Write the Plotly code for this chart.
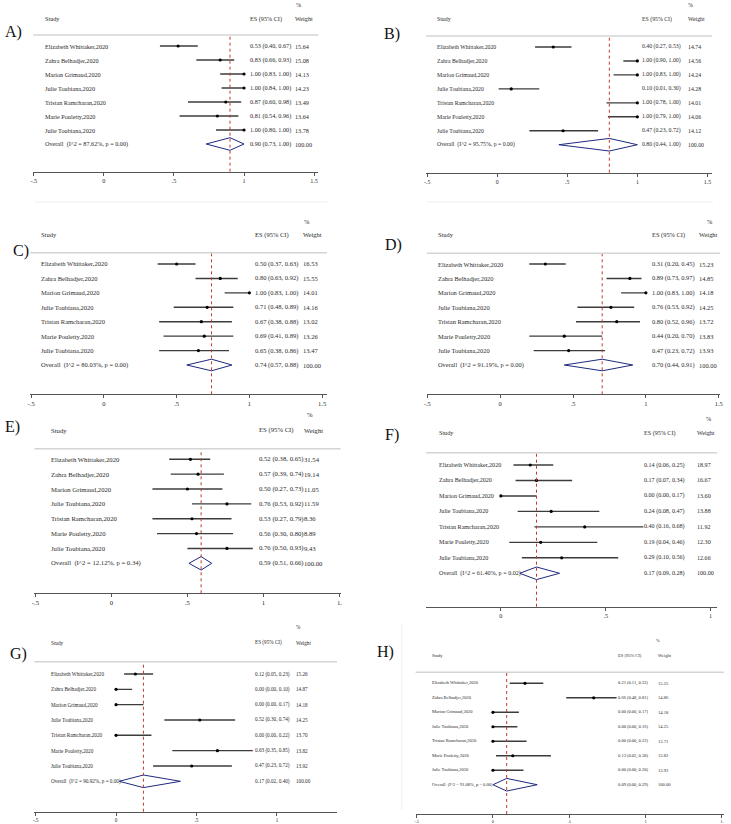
import plotly.graph_objects as go

W, H = 731, 824

# ---------------- data ----------------
studies = ["Elizabeth Whittaker,2020", "Zahra Belhadjer,2020", "Marion Grimaud,2020",
           "Julie Toubiana,2020", "Tristan Ramcharan,2020", "Marie Pouletty,2020",
           "Julie Toubiana,2020"]
panel_labels = ["A)", "B)", "C)", "D)", "E)", "F)", "G)", "H)"]

es_A = [0.53, 0.83, 1.00, 1.00, 0.87, 0.81, 1.00]
lo_A = [0.40, 0.66, 0.83, 0.84, 0.60, 0.54, 0.80]
hi_A = [0.67, 0.93, 1.00, 1.00, 0.98, 0.96, 1.00]
wt_A = [15.64, 15.08, 14.13, 14.23, 13.49, 13.64, 13.78]
overall_A = [0.90, 0.73, 1.00]
het_A = [87.62, 0.00]

es_B = [0.40, 1.00, 1.00, 0.10, 1.00, 1.00, 0.47]
lo_B = [0.27, 0.90, 0.83, 0.01, 0.78, 0.79, 0.23]
hi_B = [0.53, 1.00, 1.00, 0.30, 1.00, 1.00, 0.72]
wt_B = [14.74, 14.56, 14.24, 14.28, 14.01, 14.06, 14.12]
overall_B = [0.80, 0.44, 1.00]
het_B = [95.75, 0.00]

es_C = [0.50, 0.80, 1.00, 0.71, 0.67, 0.69, 0.65]
lo_C = [0.37, 0.63, 0.83, 0.48, 0.38, 0.41, 0.38]
hi_C = [0.63, 0.92, 1.00, 0.89, 0.88, 0.89, 0.86]
wt_C = [16.53, 15.55, 14.01, 14.16, 13.02, 13.26, 13.47]
overall_C = [0.74, 0.57, 0.88]
het_C = [80.03, 0.00]

es_D = [0.31, 0.89, 1.00, 0.76, 0.80, 0.44, 0.47]
lo_D = [0.20, 0.73, 0.83, 0.53, 0.52, 0.20, 0.23]
hi_D = [0.45, 0.97, 1.00, 0.92, 0.96, 0.70, 0.72]
wt_D = [15.23, 14.85, 14.18, 14.25, 13.72, 13.83, 13.93]
overall_D = [0.70, 0.44, 0.91]
het_D = [91.19, 0.00]

es_E = [0.52, 0.57, 0.50, 0.76, 0.53, 0.56, 0.76]
lo_E = [0.38, 0.39, 0.27, 0.53, 0.27, 0.30, 0.50]
hi_E = [0.65, 0.74, 0.73, 0.92, 0.79, 0.80, 0.93]
wt_E = [31.54, 19.14, 11.05, 11.59, 8.36, 8.89, 9.43]
overall_E = [0.59, 0.51, 0.66]
het_E = [12.12, 0.34]

es_F = [0.14, 0.17, 0.00, 0.24, 0.40, 0.19, 0.29]
lo_F = [0.06, 0.07, 0.00, 0.08, 0.16, 0.04, 0.10]
hi_F = [0.25, 0.34, 0.17, 0.47, 0.68, 0.46, 0.56]
wt_F = [18.97, 16.67, 13.60, 13.88, 11.92, 12.30, 12.66]
overall_F = [0.17, 0.09, 0.28]
het_F = [61.40, 0.02]

es_G = [0.12, 0.00, 0.00, 0.52, 0.00, 0.63, 0.47]
lo_G = [0.05, 0.00, 0.00, 0.30, 0.00, 0.35, 0.23]
hi_G = [0.23, 0.10, 0.17, 0.74, 0.22, 0.85, 0.72]
wt_G = [15.26, 14.87, 14.18, 14.25, 13.70, 13.82, 13.92]
overall_G = [0.17, 0.02, 0.40]
het_G = [90.92, 0.00]

es_H = [0.21, 0.66, 0.00, 0.00, 0.00, 0.13, 0.00]
lo_H = [0.11, 0.48, 0.00, 0.00, 0.00, 0.02, 0.00]
hi_H = [0.33, 0.81, 0.17, 0.16, 0.22, 0.38, 0.20]
wt_H = [15.25, 14.86, 14.18, 14.25, 13.71, 13.82, 13.93]
overall_H = [0.09, 0.00, 0.29]
het_H = [91.08, 0.00]

tickvals_full = [-0.5, 0, 0.5, 1, 1.5]
ticktext_full = ["-.5", "0", ".5", "1", "1.5"]
ticktext_cut = ["-.5", "0", ".5", "1", "1."]
tickvals_F = [0, 0.5, 1]
ticktext_F = ["0", ".5", "1"]
tickvals_G = [-0.5, 0, 0.5, 1]
ticktext_G = ["-.5", "0", ".5", "1"]

series = [
    (es_A, lo_A, hi_A, wt_A, overall_A, het_A, tickvals_full, ticktext_full),
    (es_B, lo_B, hi_B, wt_B, overall_B, het_B, tickvals_full, ticktext_full),
    (es_C, lo_C, hi_C, wt_C, overall_C, het_C, tickvals_full, ticktext_full),
    (es_D, lo_D, hi_D, wt_D, overall_D, het_D, tickvals_full, ticktext_full),
    (es_E, lo_E, hi_E, wt_E, overall_E, het_E, tickvals_full, ticktext_cut),
    (es_F, lo_F, hi_F, wt_F, overall_F, het_F, tickvals_F, ticktext_F),
    (es_G, lo_G, hi_G, wt_G, overall_G, het_G, tickvals_G, ticktext_G),
    (es_H, lo_H, hi_H, wt_H, overall_H, het_H, tickvals_full, ticktext_cut),
]

# ---------------- layout (pixel geometry of each panel) ----------------
geo = [
    dict(axl=30.5, axr=318.0, x0=101.7, u=141.3, axy=171.7, hdy=35.0, r1=46.0, rs=14.0,
         sx=40.0, esx=246.7, wx=292.0, hty=18.7, py=4.7, px=293.0, lx=0, ly=32, fs=6.2, dh=6.3),
    dict(axl=426.7, axr=715.0, x0=498.3, u=141.3, axy=172.7, hdy=36.0, r1=47.0, rs=13.96,
         sx=436.0, esx=642.0, wx=688.7, hty=19.3, py=4.7, px=688.7, lx=382, ly=34, fs=5.8, dh=6.3),
    dict(axl=27.3, axr=326.7, x0=101.7, u=146.7, axy=394.3, hdy=252.7, r1=264.0, rs=14.43,
         sx=36.0, esx=252.3, wx=300.0, hty=235.0, py=221.0, px=301.7, lx=8, ly=251, fs=6.5, dh=5.8),
    dict(axl=427.3, axr=723.0, x0=501.3, u=146.9, axy=394.3, hdy=253.3, r1=264.0, rs=14.43,
         sx=436.7, esx=652.3, wx=699.3, hty=235.0, py=221.0, px=707.7, lx=383, ly=245, fs=6.4, dh=5.8),
    dict(axl=31.7, axr=340.5, x0=109.3, u=153.3, axy=593.3, hdy=448.7, r1=459.3, rs=14.86,
         sx=46.0, esx=255.7, wx=301.7, hty=430.0, py=414.7, px=304.0, lx=0, ly=427, fs=6.7, dh=6.7),
    dict(axl=426.7, axr=720.0, x0=502.0, u=211.3, axy=606.7, hdy=452.7, r1=465.0, rs=15.47,
         sx=437.7, esx=644.3, wx=697.7, hty=433.3, py=419.0, px=706.7, lx=383, ly=435, fs=6.1, dh=6.3),
    dict(axl=31.7, axr=336.7, x0=114.0, u=162.2, axy=811.7, hdy=661.7, r1=674.0, rs=15.33,
         sx=46.0, esx=252.3, wx=293.3, hty=642.7, py=626.7, px=293.3, lx=5, ly=654, fs=5.2, dh=6.3),
    dict(axl=416.0, axr=726.7, x0=494.0, u=153.9, axy=814.0, hdy=672.3, r1=683.3, rs=14.49,
         sx=431.0, esx=618.3, wx=658.3, hty=655.0, py=640.0, px=656.7, lx=375, ly=652, fs=4.5, dh=6.3),
]

FONT = "Liberation Serif"
TXT = "#2a2a2a"
CI_COL = "#3c3c3c"
DIAM = "#1f2a80"
RED = "#c0392b"

fig = go.Figure()
annotations = []
shapes = []
layout_axes = {}


def px(x):
    return x / W


def py(y):
    return 1 - y / H


for i, (g, s) in enumerate(zip(geo, series), start=1):
    es, lo, hi, wt, ov, het, tv, tt = s
    xa = "x" if i == 1 else f"x{i}"
    ya = "y" if i == 1 else f"y{i}"
    xkey = "xaxis" if i == 1 else f"xaxis{i}"
    ykey = "yaxis" if i == 1 else f"yaxis{i}"

    ka = 1 + (g["axy"] - g["r1"]) / g["rs"]
    kh = 1 + (g["hdy"] - g["r1"]) / g["rs"]
    xr = [(g["axl"] - g["x0"]) / g["u"], (g["axr"] - g["x0"]) / g["u"]]

    layout_axes[xkey] = dict(
        domain=[px(g["axl"]), px(g["axr"])], range=xr, anchor=ya,
        showline=True, linecolor="#555555", linewidth=1, showgrid=False, zeroline=False,
        ticks="outside", ticklen=3, tickcolor="#555555", tickwidth=1,
        tickmode="array", tickvals=tv, ticktext=tt,
        tickfont=dict(family=FONT, size=g["fs"], color=TXT), fixedrange=True,
    )
    layout_axes[ykey] = dict(
        domain=[py(g["axy"]), py(g["hdy"])], range=[ka, kh], anchor=xa,
        visible=False, showgrid=False, zeroline=False, fixedrange=True,
    )

    rows = list(range(1, len(es) + 1))
    # CI lines
    cx, cy = [], []
    for k, a, b in zip(rows, lo, hi):
        cx += [a, b, None]
        cy += [k, k, None]
    fig.add_trace(go.Scatter(x=cx, y=cy, xaxis=xa, yaxis=ya, mode="lines",
                             line=dict(color=CI_COL, width=1.4), hoverinfo="skip",
                             showlegend=False, cliponaxis=False))
    fig.add_trace(go.Scatter(x=es, y=rows, xaxis=xa, yaxis=ya, mode="markers",
                             marker=dict(color="black", size=3.2, symbol="circle"),
                             showlegend=False, cliponaxis=False))
    # overall diamond
    ko = len(es) + 1
    h = g["dh"] / g["rs"]
    fig.add_trace(go.Scatter(x=[ov[1], ov[0], ov[2], ov[0], ov[1]],
                             y=[ko, ko - h, ko, ko + h, ko],
                             xaxis=xa, yaxis=ya, mode="lines",
                             line=dict(color=DIAM, width=1), showlegend=False,
                             cliponaxis=False))
    # red dotted overall line
    shapes.append(dict(type="line", xref=xa, yref=f"{ya} domain", x0=ov[0], x1=ov[0],
                       y0=0, y1=1, line=dict(color=RED, width=1, dash="dot")))
    # header rule
    shapes.append(dict(type="line", xref=f"{xa} domain", yref=f"{ya} domain", x0=0, x1=1,
                       y0=1, y1=1, line=dict(color="#d4d4d4", width=1.5)))

    f = dict(family=FONT, size=g["fs"], color=TXT)
    # headers
    for txt, xx, yy in [("Study", g["sx"], g["hty"]), ("ES (95% CI)", g["esx"], g["hty"]),
                        ("Weight", g["wx"], g["hty"]), ("%", g["px"], g["py"])]:
        annotations.append(dict(text=txt, x=px(xx), y=py(yy), xref="paper", yref="paper",
                                xanchor="left", yanchor="middle", showarrow=False, font=f))
    # rows
    for k, name, e, a, b, w in zip(rows, studies, es, lo, hi, wt):
        annotations.append(dict(text=name, x=px(g["sx"]), y=k, xref="paper", yref=ya,
                                xanchor="left", yanchor="middle", showarrow=False, font=f))
        annotations.append(dict(text=f"{e:.2f} ({a:.2f}, {b:.2f})", x=px(g["esx"]), y=k,
                                xref="paper", yref=ya, xanchor="left", yanchor="middle",
                                showarrow=False, font=f))
        annotations.append(dict(text=f"{w:.2f}", x=px(g["wx"]), y=k, xref="paper", yref=ya,
                                xanchor="left", yanchor="middle", showarrow=False, font=f))
    annotations.append(dict(text=f"Overall\u00a0 (I^2 = {het[0]:.2f}%, p = {het[1]:.2f})",
                            x=px(g["sx"]), y=ko, xref="paper", yref=ya, xanchor="left",
                            yanchor="middle", showarrow=False, font=f))
    annotations.append(dict(text=f"{ov[0]:.2f} ({ov[1]:.2f}, {ov[2]:.2f})", x=px(g["esx"]),
                            y=ko, xref="paper", yref=ya, xanchor="left", yanchor="middle",
                            showarrow=False, font=f))
    annotations.append(dict(text="100.00", x=px(g["wx"]), y=ko, xref="paper", yref=ya,
                            xanchor="left", yanchor="middle", showarrow=False, font=f))
    # panel label
    annotations.append(dict(text=panel_labels[i - 1], x=px(g["lx"]), y=py(g["ly"]),
                            xref="paper", yref="paper", xanchor="left", yanchor="middle",
                            showarrow=False,
                            font=dict(family=FONT, size=16, color="#111111")))

# faint frame remnants
shapes.append(dict(type="line", xref="paper", yref="paper", x0=px(32), x1=px(327),
                   y0=py(202), y1=py(202), line=dict(color="#efefef", width=1)))
shapes.append(dict(type="line", xref="paper", yref="paper", x0=px(427), x1=px(716),
                   y0=py(202), y1=py(202), line=dict(color="#efefef", width=1)))
shapes.append(dict(type="line", xref="paper", yref="paper", x0=px(402), x1=px(402),
                   y0=py(623), y1=py(810), line=dict(color="#f0f0f0", width=1)))

fig.update_layout(
    width=W, height=H, margin=dict(l=0, r=0, t=0, b=0),
    paper_bgcolor="white", plot_bgcolor="rgba(0,0,0,0)",
    showlegend=False, annotations=annotations, shapes=shapes,
    **layout_axes,
)

fig.write_html("out.html",
               config={"displayModeBar": False, "staticPlot": True},
               post_script="document.body.style.margin='0';"
                           "document.body.style.overflow='hidden';")
